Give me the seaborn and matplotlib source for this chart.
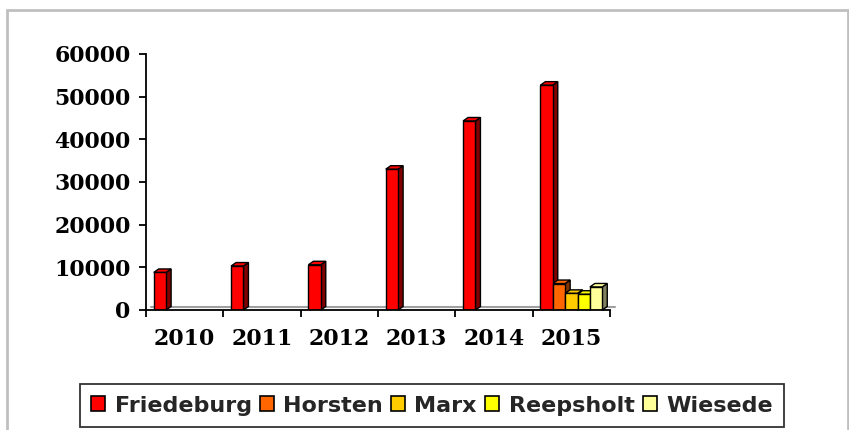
import numpy as np
import pandas as pd
import matplotlib
matplotlib.use("Agg")
import matplotlib.pyplot as plt
import seaborn as sns
from matplotlib.patches import Polygon, Patch, Rectangle
from matplotlib.transforms import IdentityTransform

# data
years = ["2010", "2011", "2012", "2013", "2014", "2015"]
towns = ["Friedeburg", "Horsten", "Marx", "Reepsholt", "Wiesede"]
friedeburg = [8800, 10300, 10600, 33000, 44300, 52700]
others_2015 = [6200, 3900, 3700, 5400]  # Horsten, Marx, Reepsholt, Wiesede

front_colors = ["#ff0000", "#ff6600", "#ffcc00", "#ffff00", "#ffff99"]
side_colors = ["#800000", "#803300", "#806600", "#808000", "#808060"]

rows = [{"year": y, "town": "Friedeburg", "value": v} for y, v in zip(years, friedeburg)]
rows += [{"year": "2015", "town": t, "value": v} for t, v in zip(towns[1:], others_2015)]
df = pd.DataFrame(rows)

sns.set_style("white")
W, H = 849, 430
fig = plt.figure(figsize=(W / 100, H / 100), dpi=100)
ax = fig.add_axes([146 / W, 1 - 310 / H, (610 - 146) / W, (310 - 54) / H])

sns.barplot(data=df, x="year", y="value", hue="town", order=years, hue_order=towns,
            palette=front_colors, edgecolor="black", linewidth=1, width=0.8,
            saturation=1, legend=False, ax=ax, zorder=2)

ax.set_ylim(0, 60000)
ax.set_xlim(-0.5, 5.5)
ax.set_xlabel("")
ax.set_ylabel("")
ax.set_yticks(range(0, 60001, 10000))
ax.set_yticklabels([str(v) for v in range(0, 60001, 10000)])
ax.set_xticks(range(len(years)))
ax.set_xticklabels(years)
ax.set_xticks(np.arange(-0.5, 6, 1), minor=True)

for s in ["top", "right"]:
    ax.spines[s].set_visible(False)
for s in ["left", "bottom"]:
    ax.spines[s].set_color("black")
    ax.spines[s].set_linewidth(1.3)

tick_font = dict(family="DejaVu Serif", weight="bold", size=15.8)
for lab in ax.get_yticklabels() + ax.get_xticklabels():
    lab.set_fontfamily(tick_font["family"])
    lab.set_fontweight(tick_font["weight"])
    lab.set_fontsize(tick_font["size"])
ax.tick_params(axis="y", which="major", left=True, direction="out", length=5, width=1.3,
               pad=6, colors="black")
ax.tick_params(axis="x", which="major", bottom=True, length=0, pad=13, colors="black")
ax.tick_params(axis="x", which="minor", bottom=True, direction="out", length=5, width=1.3,
               color="black")

# pseudo-3D side and top faces, derived from the bar patches
dx, dy = 5, 3.5
to_disp = ax.transData.transform
for patch in ax.patches:
    if np.isnan(patch.get_height()) or patch.get_height() == 0:
        continue
    fc = matplotlib.colors.to_hex(patch.get_facecolor())
    idx = front_colors.index(fc) if fc in front_colors else 0
    x0, w, h = patch.get_x(), patch.get_width(), patch.get_height()
    (xl, yb), (xr, yt) = to_disp([(x0, 0), (x0 + w, h)])
    side = [(xr, yb), (xr, yt), (xr + dx, yt + dy), (xr + dx, yb + dy)]
    top = [(xl, yt), (xr, yt), (xr + dx, yt + dy), (xl + dx, yt + dy)]
    z = 1 + idx * 0.01
    ax.add_patch(Polygon(side, closed=True, facecolor=side_colors[idx], edgecolor="black",
                         linewidth=1, transform=IdentityTransform(), clip_on=False, zorder=z))
    ax.add_patch(Polygon(top, closed=True, facecolor=front_colors[idx], edgecolor="black",
                         linewidth=1, transform=IdentityTransform(), clip_on=False, zorder=z))

# floor back edge
(fx0, fy0), (fx1, _) = to_disp([(-0.5, 0), (5.5, 0)])
ax.add_line(plt.Line2D([fx0 + dx, fx1 + dx], [fy0 + dy, fy0 + dy], color="#a0a0a0",
                       linewidth=1.5, transform=IdentityTransform(), clip_on=False, zorder=0.5))

# legend
handles = [Patch(facecolor=c, edgecolor="black", linewidth=1.2) for c in front_colors]
leg = fig.legend(handles, towns, loc="center", bbox_to_anchor=(432 / W, 1 - 405.5 / H),
                 ncol=5, frameon=True, fancybox=False, borderpad=0.5,
                 handlelength=0.62, handleheight=0.62, handletextpad=0.42,
                 columnspacing=0.38, prop=dict(family="DejaVu Sans", weight="bold", size=16))
leg.get_frame().set_edgecolor("black")
leg.get_frame().set_linewidth(1.3)

# outer chart border
fig.patches.append(Rectangle((7 / W, -0.1), (848 - 7) / W, 1.1 - 10 / H, transform=fig.transFigure,
                             fill=False, edgecolor="#c0c0c0", linewidth=2, zorder=0))

fig.savefig("out.png", dpi=100, facecolor="white")
